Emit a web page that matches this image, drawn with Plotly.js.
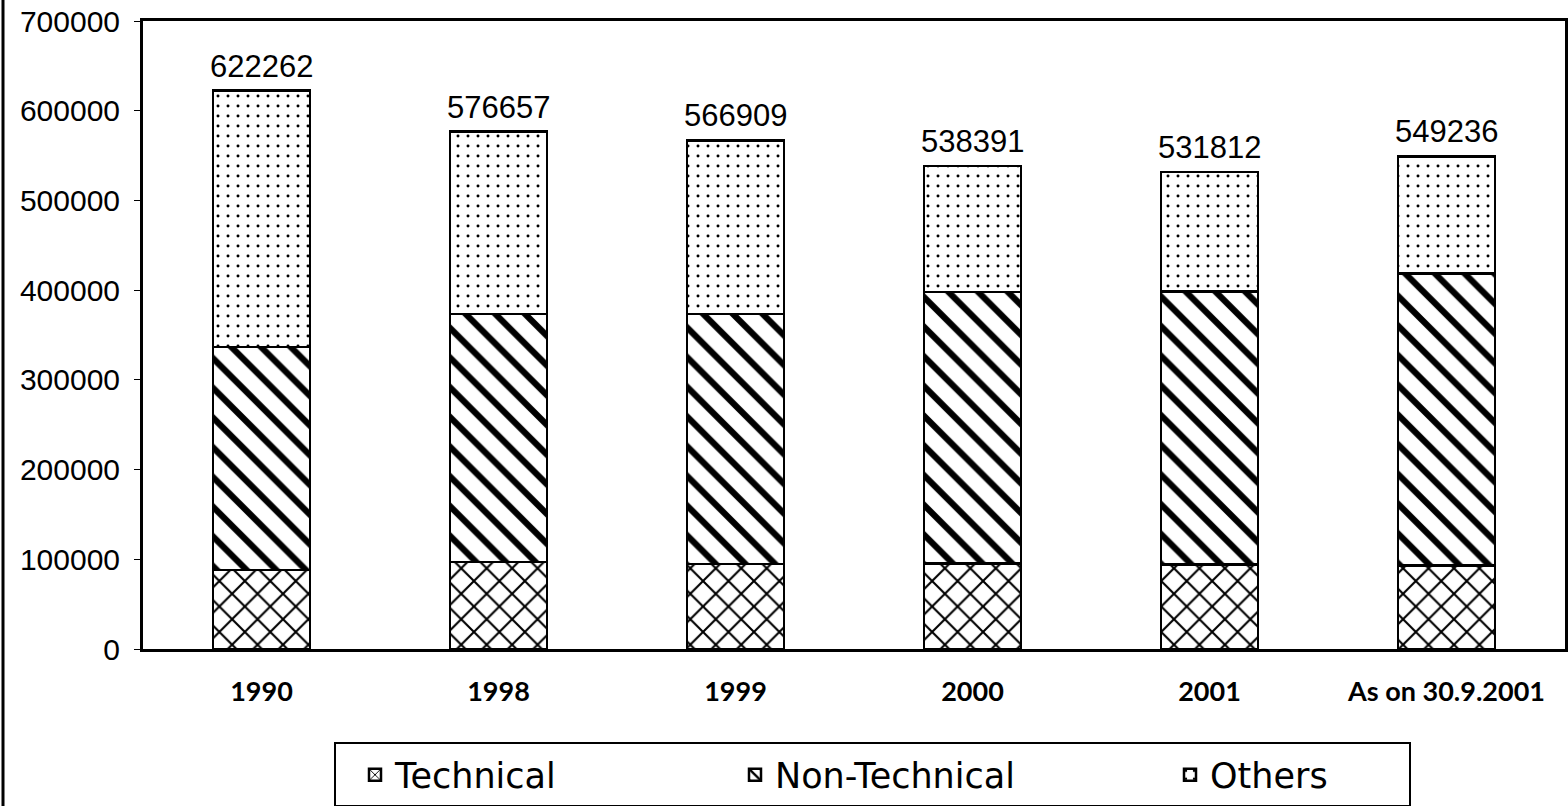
<!DOCTYPE html>
<html>
<head>
<meta charset="utf-8">
<script src="https://cdn.plot.ly/plotly-3.0.1.min.js"></script>
<style>
  html, body { margin: 0; padding: 0; background: #fff; }
  #chart { width: 1568px; height: 806px; }
</style>
</head>
<body>
<div id="chart"></div>
<script>
const categories = ["1990", "1998", "1999", "2000", "2001", "As on 30.9.2001"];
const technical = [88000, 97000, 95000, 95500, 94000, 93000];
const nonTechnical = [248700, 276500, 278500, 302500, 304700, 325400];
const others = [285562, 203157, 193409, 140391, 133112, 130836];
const totals = [622262, 576657, 566909, 538391, 531812, 549236];
const yTicks = [0, 100000, 200000, 300000, 400000, 500000, 600000, 700000];

const outline = { color: "#000", width: 2.5 };

const traces = [
  {
    type: "bar", name: "Technical", x: categories, y: technical, legend: "legend",
    marker: { color: "#fff", line: outline,
      pattern: { shape: "x", fgcolor: "#000", bgcolor: "#fff", size: 18, solidity: 0.22, fillmode: "replace" } }
  },
  {
    type: "bar", name: "Non-Technical", x: categories, y: nonTechnical, legend: "legend2",
    marker: { color: "#fff", line: outline,
      pattern: { shape: "\\", fgcolor: "#000", bgcolor: "#fff", size: 21, solidity: 0.3, fillmode: "replace" } }
  },
  {
    type: "bar", name: "Others", x: categories, y: others, legend: "legend3",
    marker: { color: "#fff", line: outline,
      pattern: { shape: ".", fgcolor: "#000", bgcolor: "#fff", size: 10, solidity: 0.07, fillmode: "replace" } }
  }
];

const annotations = categories.map((c, i) => ({
  x: i, y: totals[i], xref: "x", yref: "y",
  text: String(totals[i]), showarrow: false,
  yanchor: "bottom", yshift: 5,
  font: { family: "Liberation Sans, Arial, sans-serif", size: 31, color: "#000" }
}));

function py(Y) { return (649 - Y) / 628; }
function px(X) { return (X - 143) / 1422; }

const legendFont = { family: "DejaVu Sans, sans-serif", size: 35, color: "#000" };
function legendAt(X) {
  return {
    orientation: "h", x: px(X), xanchor: "left", y: py(775), yanchor: "middle",
    bgcolor: "rgba(0,0,0,0)", borderwidth: 0, font: legendFont
  };
}

const layout = {
  width: 1568, height: 806,
  margin: { l: 143, r: 3, t: 21, b: 157, autoexpand: false },
  paper_bgcolor: "#fff", plot_bgcolor: "#fff",
  barmode: "stack", bargap: 0.59,
  font: { family: "Liberation Sans, Arial, sans-serif", color: "#000" },
  xaxis: {
    type: "category", showgrid: false, zeroline: false,
    showline: true, mirror: true, linecolor: "#000", linewidth: 3,
    ticks: "", ticklabelstandoff: 17,
    tickfont: { family: "Lato, sans-serif", size: 27, weight: "bold", color: "#000" }
  },
  yaxis: {
    range: [0, 700000], tickvals: yTicks, ticktext: yTicks.map(String),
    showgrid: false, zeroline: false,
    showline: true, mirror: true, linecolor: "#000", linewidth: 3,
    ticks: "outside", ticklen: 6, tickcolor: "#000", tickwidth: 1,
    ticklabelstandoff: 8,
    tickfont: { family: "Liberation Sans, Arial, sans-serif", size: 30, color: "#000" }
  },
  showlegend: true,
  legend: legendAt(355),
  legend2: legendAt(735),
  legend3: legendAt(1170),
  annotations: annotations,
  shapes: [
    { type: "rect", xref: "paper", yref: "paper",
      x0: px(335), x1: px(1410), y0: py(806), y1: py(743),
      line: { color: "#000", width: 2 }, fillcolor: "rgba(0,0,0,0)" },
    { type: "line", xref: "paper", yref: "paper",
      x0: px(3), x1: px(3), y0: py(806), y1: py(0),
      line: { color: "#000", width: 3 } }
  ]
};

Plotly.newPlot("chart", traces, layout, { displayModeBar: false, staticPlot: true });
</script>
</body>
</html>
